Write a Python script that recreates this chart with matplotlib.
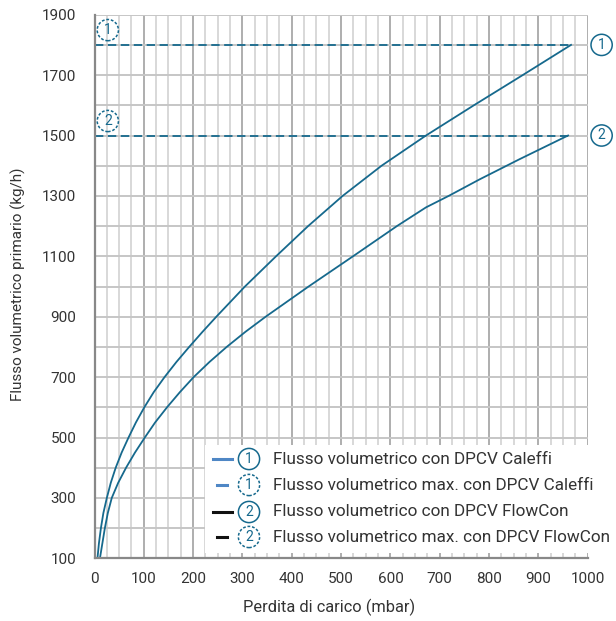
import matplotlib.pyplot as plt
import numpy as np
from matplotlib.lines import Line2D
from matplotlib.patches import Rectangle

plt.rcParams['font.family'] = ['Roboto', 'DejaVu Sans']
plt.rcParams['lines.scale_dashes'] = False

# curve 1: Caleffi DPCV, curve 2: FlowCon DPCV
caleffi_x = [6, 9, 13, 18, 25, 33, 43, 55, 69, 84, 101, 120, 142, 166, 192, 219, 247, 305,
             368, 433, 503, 582, 672, 769, 868, 966]
caleffi_y = [100, 150, 200, 250, 300, 350, 400, 450, 500, 550, 600, 650, 700, 750, 800, 850, 900, 1000,
             1100, 1200, 1300, 1400, 1500, 1600, 1700, 1800]
flowcon_x = [11, 16, 21, 27, 35, 48, 64, 82, 102, 123, 147, 173, 201, 233, 268, 306, 347, 434,
             524, 613, 672, 718, 781, 861, 960]
flowcon_y = [100, 150, 200, 250, 300, 350, 400, 450, 500, 550, 600, 650, 700, 750, 800, 850, 900, 1000,
             1100, 1200, 1262, 1300, 1355, 1421, 1500]
caleffi_max = 1800
flowcon_max = 1500

legend_labels = ["Flusso volumetrico con DPCV Caleffi",
                 "Flusso volumetrico max. con DPCV Caleffi",
                 "Flusso volumetrico con DPCV FlowCon",
                 "Flusso volumetrico max. con DPCV FlowCon"]
legend_nums = ["1", "1", "2", "2"]
legend_dashed = [False, True, False, True]
legend_colors = ['#4f87c5', '#4f87c5', '#111111', '#111111']

CURVE = '#16698d'
TXT = '#333333'
W, H = 616, 621

fig = plt.figure(figsize=(W / 100, H / 100), dpi=100)
ax = fig.add_axes([94.5 / W, 1 - 558.3 / H, 493.3 / W, 543.6 / H])

ax.set_xlim(0, 1000)
ax.set_ylim(100, 1900)

# grid
for xv in np.arange(25, 1001, 25):
    major = xv % 100 == 0
    ax.axvline(xv, color='#a8a8a8' if major else '#d6d6d6', lw=1.3, zorder=0)
for yv in np.arange(200, 1901, 100):
    ax.axhline(yv, color='#c6c6c6', lw=1.4, zorder=0)

ax.plot(caleffi_x, caleffi_y, color=CURVE, lw=1.3, zorder=3)
ax.plot(flowcon_x, flowcon_y, color=CURVE, lw=1.3, zorder=3)
ax.plot([0, caleffi_x[-1]], [caleffi_max, caleffi_max], color=CURVE, lw=1.3,
        ls=(0, (6, 3.3)), zorder=3)
ax.plot([0, flowcon_x[-1]], [flowcon_max, flowcon_max], color=CURVE, lw=1.3,
        ls=(0, (6, 3.3)), zorder=3)


def circled(target, x, y, num, dashed, **kw):
    target.text(x, y, num, ha='center', va='center', fontsize=10, color=CURVE,
                zorder=7, bbox=dict(boxstyle='circle,pad=0.26', fc='none', ec=CURVE, lw=1.1,
                                    ls=(0, (2, 1.3)) if dashed else '-'), **kw)


circled(ax, 27, 1849, "1", True, clip_on=False)
circled(ax, 27, 1548, "2", True, clip_on=False)
circled(ax, 1028, caleffi_max, "1", False, clip_on=False)
circled(ax, 1028, flowcon_max, "2", False, clip_on=False)

ax.set_xticks(np.arange(0, 1001, 100))
ax.set_yticks(np.arange(100, 1901, 200))
ax.tick_params(axis='both', length=0, labelsize=11, labelcolor=TXT)
ax.tick_params(axis='y', pad=13)
ax.tick_params(axis='x', pad=10)
for s in ['top', 'right']:
    ax.spines[s].set_visible(False)
for s in ['left', 'bottom']:
    ax.spines[s].set_color('#888888')
    ax.spines[s].set_linewidth(1.6)
    ax.spines[s].set_zorder(4)

fig.text(18 / W, 1 - 284 / H, "Flusso volumetrico primario (kg/h)", rotation=90,
         ha='center', va='center', fontsize=11, color=TXT)
fig.text(329 / W, 1 - 607 / H, "Perdita di carico (mbar)", ha='center', va='center',
         fontsize=11.8, color=TXT)

# legend box
fig.patches.append(Rectangle((205 / W, 1 - 553 / H), 410 / W, 108 / H,
                             transform=fig.transFigure, fc='white', ec='none', zorder=5))
rows = [459, 485, 512, 537]
for i, py in enumerate(rows):
    yf = 1 - py / H
    if legend_dashed[i]:
        x0, x1 = 217, 227
    else:
        x0, x1 = 213, 232
    fig.lines.append(Line2D([x0 / W, x1 / W], [yf, yf], transform=fig.transFigure,
                            color=legend_colors[i], lw=2.2, zorder=6))
    circled(fig, 249 / W, yf, legend_nums[i], legend_dashed[i])
    fig.text(273 / W, yf, legend_labels[i], ha='left', va='center', fontsize=12.3,
             color=TXT, zorder=6)

fig.savefig('out.png', dpi=100)
